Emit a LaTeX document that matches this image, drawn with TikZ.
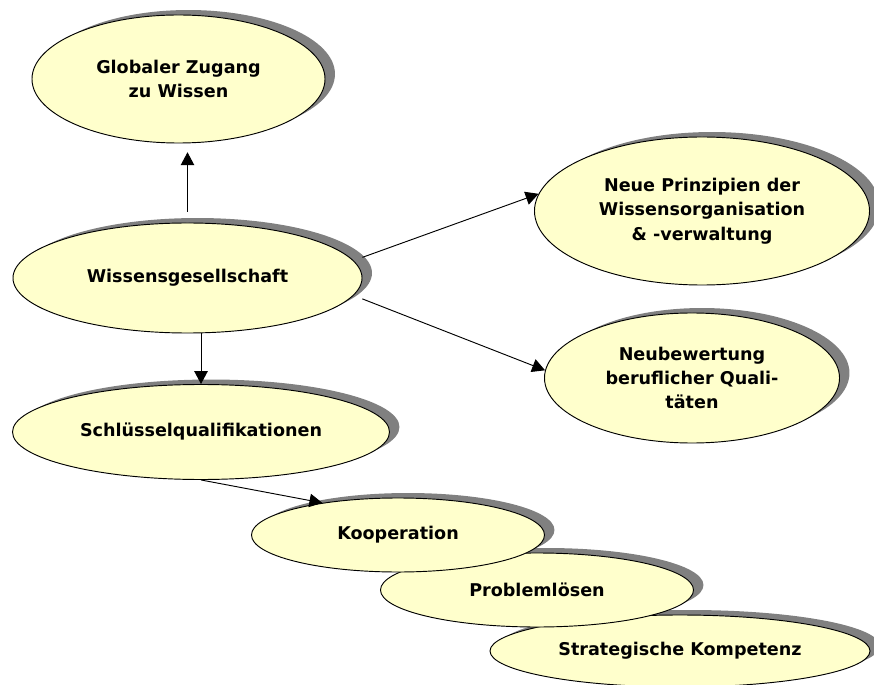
\documentclass[tikz,border=0pt]{standalone}
\usepackage{fontspec}
\setmainfont{DejaVu Sans}
\usetikzlibrary{arrows.meta, shapes.geometric, shadows}
\definecolor{BubbleFill}{HTML}{FFFFCC}
\definecolor{BubbleShadow}{HTML}{808080}
\definecolor{LineBlack}{HTML}{000000}
\tikzset{
  bubble/.style={ellipse, draw=LineBlack, line width=0.8pt, fill=BubbleFill,
    inner sep=0pt, align=center, font=\fontsize{15pt}{20.8pt}\selectfont\bfseries,
    drop shadow={shadow xshift=8.5pt, shadow yshift=4.25pt, fill=BubbleShadow, opacity=1}},
  link/.style={draw=LineBlack, line width=0.8pt, -{Triangle[length=11pt,width=11.5pt]}}
}
\begin{document}
\begin{tikzpicture}[x=0.03cm, y=-0.03cm]

    \useasboundingbox (0,0) rectangle (874,685);

    % Top and centre
    \node[bubble, minimum width=8.79cm, minimum height=3.84cm] (global) at (178.5,79) {Globaler Zugang\\zu Wissen};
    \node[bubble, minimum width=10.47cm, minimum height=3.30cm] (wissen) at (187.5,278) {Wissensgesellschaft};
    \node[bubble, minimum width=11.31cm, minimum height=2.85cm] (schluessel) at (201,432) {Schlüsselqualifikationen};

    % Right side
    \node[bubble, minimum width=10.05cm, minimum height=4.44cm] (neue) at (702,211) {Neue Prinzipien der\\Wissensorganisation\\\& -verwaltung};
    \node[bubble, minimum width=8.85cm, minimum height=3.90cm] (neubew) at (692,378) {Neubewertung\\beruflicher Quali-\\täten};

    % Stacked qualifications
    \node[bubble, minimum width=11.40cm, minimum height=2.16cm] (strat) at (680,651) {Strategische Kompetenz};
    \node[bubble, minimum width=9.39cm, minimum height=2.22cm] (problem) at (537,590) {Problemlösen};
    \node[bubble, minimum width=8.79cm, minimum height=2.22cm] (koop) at (398,535) {Kooperation};

    % Connectors
    \draw[link, shorten <=9pt, shorten >=7.5pt] (wissen.north) -- (wissen.north |- global.south);
    \draw[link] (schluessel.north |- wissen.south) -- (schluessel.north);
    \draw[link, shorten <=8pt] (wissen.6) -- (neue.174);
    \draw[link, shorten <=8pt] (wissen.-6) -- (neubew.177);
    \draw[link] (schluessel.south) -- (koop.157);

\end{tikzpicture}
\end{document}
